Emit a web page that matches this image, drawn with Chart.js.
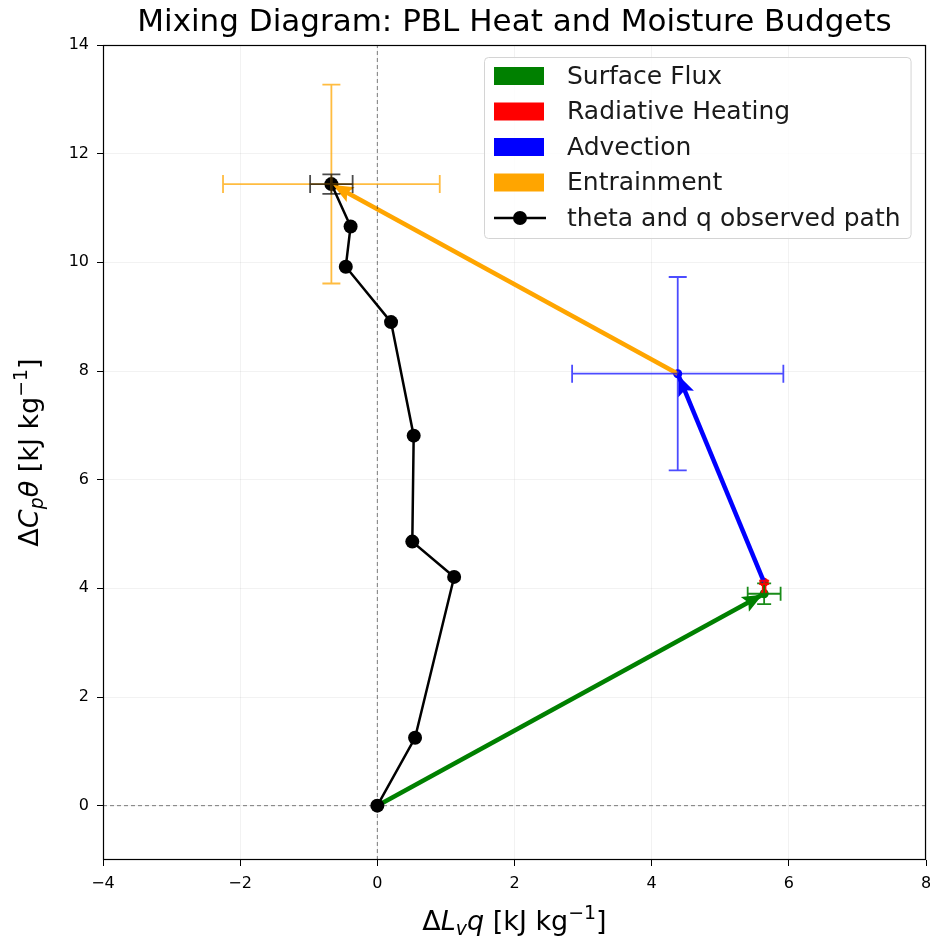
<!DOCTYPE html>
<html>
<head>
<meta charset="utf-8">
<title>Mixing Diagram: PBL Heat and Moisture Budgets</title>
<script src="https://cdn.jsdelivr.net/npm/chart.js@4.4.1/dist/chart.umd.min.js"></script>
<style>
  html, body { margin: 0; padding: 0; background: #ffffff; overflow: hidden; }
  canvas { display: block; }
</style>
</head>
<body>
<canvas id="c" width="933" height="943"></canvas>
<script>
// Axis ticks
const qTicks = [-4, -2, 0, 2, 4, 6, 8];
const thetaTicks = [0, 2, 4, 6, 8, 10, 12, 14];

// Observed path of Lv*q and Cp*theta changes (kJ/kg)
const pathQ     = [0, 0.55, 1.12, 0.51, 0.53, 0.20, -0.46, -0.39, -0.67];
const pathTheta = [0, 1.25, 4.21, 4.86, 6.81, 8.90, 9.92, 10.66, 11.44];
// uncertainty of the final observed point
const pathErrQ = 0.31;
const pathErrTheta = 0.18;

// Budget terms: increments in Lv*q and Cp*theta, with uncertainties
const budgetNames    = ['Surface Flux', 'Radiative Heating', 'Advection', 'Entrainment'];
const budgetColors   = ['#008000', '#ff0000', '#0000ff', '#ffa500'];
const budgetDq       = [5.64, 0.00, -1.26, -5.05];
const budgetDtheta   = [3.90, 0.21, 3.84, 3.49];
const budgetErrQ     = [0.24, 0.00, 1.54, 1.58];
const budgetErrTheta = [0.19, 0.03, 1.78, 1.83];

const FONT = 'DejaVu Sans';

// Budget vectors are chained head to tail starting from the origin
const budgetSegments = [];
{
  let q0 = 0, t0 = 0;
  for (let i = 0; i < budgetNames.length; i++) {
    const q1 = q0 + budgetDq[i], t1 = t0 + budgetDtheta[i];
    budgetSegments.push({ start: { x: q0, y: t0 }, end: { x: q1, y: t1 } });
    q0 = q1; t0 = t1;
  }
}

const fmt = v => (v < 0 ? '\u2212' + Math.abs(v) : String(v));

const datasets = [];
// zero reference lines (drawn on top)
datasets.push({
  label: 'zero-x', data: [{ x: 0, y: -1 }, { x: 0, y: 14 }],
  showLine: true, borderColor: 'rgba(0,0,0,0.5)', borderWidth: 1, borderDash: [4, 3],
  pointRadius: 0, order: 0
});
datasets.push({
  label: 'zero-y', data: [{ x: -4, y: 0 }, { x: 8, y: 0 }],
  showLine: true, borderColor: 'rgba(0,0,0,0.5)', borderWidth: 1, borderDash: [4, 3],
  pointRadius: 0, order: 0
});
// observed path
datasets.push({
  label: 'theta and q observed path',
  data: pathQ.map((q, i) => ({ x: q, y: pathTheta[i] })),
  showLine: true, borderColor: '#000', borderWidth: 2.5,
  pointRadius: 7, pointBackgroundColor: '#000', pointBorderColor: '#000', pointBorderWidth: 0,
  order: 2
});
// budget arrows
budgetSegments.forEach((s, i) => {
  datasets.push({
    label: budgetNames[i],
    data: [s.start, s.end],
    showLine: true, borderColor: budgetColors[i], borderWidth: 4.5,
    pointRadius: [0, 4.5], pointBackgroundColor: budgetColors[i], pointBorderWidth: 0,
    order: 3 + (budgetNames.length - i)
  });
});

function drawArrowHead(ctx, x0, y0, x1, y1, color) {
  const dx = x1 - x0, dy = y1 - y0;
  const len = Math.hypot(dx, dy);
  if (len < 1e-6) return;
  const ux = dx / len, uy = dy / len;
  const px = -uy, py = ux;
  const L = Math.min(20, len * 0.9);
  const W = L * 0.42;
  const tx = x1 - ux * 2, ty = y1 - uy * 2;
  const bx = tx - ux * L, by = ty - uy * L;
  const nx = tx - ux * (L - 4), ny = ty - uy * (L - 4);
  ctx.beginPath();
  ctx.moveTo(tx, ty);
  ctx.lineTo(bx + px * W, by + py * W);
  ctx.lineTo(nx, ny);
  ctx.lineTo(bx - px * W, by - py * W);
  ctx.closePath();
  ctx.fillStyle = color;
  ctx.fill();
}

function drawErrorBar(ctx, xs, ys, q, t, eq, et, color, cap, lw) {
  const cx = xs.getPixelForValue(q), cy = ys.getPixelForValue(t);
  ctx.strokeStyle = color;
  ctx.lineWidth = lw;
  ctx.beginPath();
  if (eq > 0) {
    const xl = xs.getPixelForValue(q - eq), xr = xs.getPixelForValue(q + eq);
    ctx.moveTo(xl, cy); ctx.lineTo(xr, cy);
    ctx.moveTo(xl, cy - cap); ctx.lineTo(xl, cy + cap);
    ctx.moveTo(xr, cy - cap); ctx.lineTo(xr, cy + cap);
  }
  if (et > 0) {
    const yt = ys.getPixelForValue(t + et), yb = ys.getPixelForValue(t - et);
    ctx.moveTo(cx, yt); ctx.lineTo(cx, yb);
    ctx.moveTo(cx - cap, yt); ctx.lineTo(cx + cap, yt);
    ctx.moveTo(cx - cap, yb); ctx.lineTo(cx + cap, yb);
  }
  ctx.stroke();
}

// text with italic parts, subscripts and superscripts
function richWidth(ctx, parts, size) {
  let w = 0;
  parts.forEach(p => {
    const s = (p.sub || p.sup) ? size * 0.7 : size;
    ctx.font = (p.it ? 'italic ' : '') + s + 'px ' + FONT;
    w += ctx.measureText(p.t).width;
  });
  return w;
}
function drawRich(ctx, parts, x, y, size) {
  const total = richWidth(ctx, parts, size);
  let cx = x - total / 2;
  ctx.textAlign = 'left';
  ctx.textBaseline = 'alphabetic';
  parts.forEach(p => {
    const s = (p.sub || p.sup) ? size * 0.7 : size;
    ctx.font = (p.it ? 'italic ' : '') + s + 'px ' + FONT;
    let yy = y;
    if (p.sub) yy += size * 0.2;
    if (p.sup) yy -= size * 0.42;
    ctx.fillText(p.t, cx, yy);
    cx += ctx.measureText(p.t).width;
  });
}

const overlay = {
  id: 'overlay',
  afterDatasetsDraw(chart) {
    const { ctx, chartArea: a, scales: { x: xs, y: ys } } = chart;
    ctx.save();
    ctx.beginPath();
    ctx.rect(a.left, a.top, a.right - a.left, a.bottom - a.top);
    ctx.clip();
    budgetSegments.forEach((s, i) => {
      drawArrowHead(ctx,
        xs.getPixelForValue(s.start.x), ys.getPixelForValue(s.start.y),
        xs.getPixelForValue(s.end.x), ys.getPixelForValue(s.end.y),
        budgetColors[i]);
    });
    const ebColors = ['rgba(0,128,0,0.9)', 'rgba(255,0,0,0.9)', 'rgba(0,0,255,0.7)', 'rgba(255,165,0,0.75)'];
    const caps = [7, 5, 9, 9];
    budgetSegments.forEach((s, i) => {
      drawErrorBar(ctx, xs, ys, s.end.x, s.end.y, budgetErrQ[i], budgetErrTheta[i], ebColors[i], caps[i], 1.8);
    });
    const n = pathQ.length - 1;
    drawErrorBar(ctx, xs, ys, pathQ[n], pathTheta[n], pathErrQ, pathErrTheta, 'rgba(0,0,0,0.7)', 9, 1.8);
    ctx.restore();
  },
  afterDraw(chart) {
    const { ctx, chartArea: a } = chart;
    ctx.save();
    // frame
    ctx.strokeStyle = '#000';
    ctx.lineWidth = 1.2;
    ctx.strokeRect(a.left + 0.5, a.top + 0.5, a.right - a.left - 1, a.bottom - a.top - 1);

    // title
    ctx.fillStyle = '#000';
    ctx.font = '31px ' + FONT;
    ctx.textAlign = 'center';
    ctx.textBaseline = 'alphabetic';
    ctx.fillText('Mixing Diagram: PBL Heat and Moisture Budgets', (a.left + a.right) / 2, 31);

    // axis titles
    const xLabel = [
      { t: '\u0394' }, { t: 'L', it: true }, { t: 'v', it: true, sub: true }, { t: 'q', it: true },
      { t: ' [kJ kg' }, { t: '\u22121', sup: true }, { t: ']' }
    ];
    drawRich(ctx, xLabel, (a.left + a.right) / 2, 930, 27);
    const yLabel = [
      { t: '\u0394' }, { t: 'C', it: true }, { t: 'p', it: true, sub: true }, { t: '\u03b8', it: true },
      { t: ' [kJ kg' }, { t: '\u22121', sup: true }, { t: ']' }
    ];
    ctx.save();
    ctx.translate(38, (a.top + a.bottom) / 2);
    ctx.rotate(-Math.PI / 2);
    drawRich(ctx, yLabel, 0, 0, 27);
    ctx.restore();

    // legend
    const lx = 484, ly = 57, rowH = 35.5, fs = 25;
    ctx.font = fs + 'px ' + FONT;
    const labels = budgetNames.concat(['theta and q observed path']);
    let maxW = 0;
    labels.forEach(l => { maxW = Math.max(maxW, ctx.measureText(l).width); });
    const textX = lx + 83;
    const boxW = textX - lx + maxW + 10;
    const boxH = 181;
    ctx.beginPath();
    if (ctx.roundRect) ctx.roundRect(lx + 0.5, ly + 0.5, boxW, boxH, 4);
    else ctx.rect(lx + 0.5, ly + 0.5, boxW, boxH);
    ctx.fillStyle = 'rgba(255,255,255,0.8)';
    ctx.fill();
    ctx.strokeStyle = '#d4d4d4';
    ctx.lineWidth = 1;
    ctx.stroke();
    labels.forEach((l, i) => {
      const cy = ly + 19 + i * rowH;
      if (i < budgetNames.length) {
        ctx.fillStyle = budgetColors[i];
        ctx.fillRect(lx + 10, cy - 9, 50, 18);
      } else {
        ctx.strokeStyle = '#000';
        ctx.lineWidth = 2.5;
        ctx.beginPath();
        ctx.moveTo(lx + 10, cy); ctx.lineTo(lx + 62, cy);
        ctx.stroke();
        ctx.fillStyle = '#000';
        ctx.beginPath();
        ctx.arc(lx + 36, cy, 7, 0, Math.PI * 2);
        ctx.fill();
      }
      ctx.fillStyle = '#1a1a1a';
      ctx.font = fs + 'px ' + FONT;
      ctx.textAlign = 'left';
      ctx.textBaseline = 'middle';
      ctx.fillText(l, textX, cy + 1);
    });
    ctx.restore();
  }
};

new Chart(document.getElementById('c'), {
  type: 'scatter',
  data: { datasets },
  options: {
    responsive: false,
    animation: false,
    devicePixelRatio: 1,
    layout: { padding: { top: 45, right: 0, left: 0, bottom: 0 } },
    plugins: { legend: { display: false }, tooltip: { enabled: false }, title: { display: false } },
    elements: { line: { tension: 0 } },
    scales: {
      x: {
        type: 'linear', min: -4, max: 8,
        afterFit(scale) { scale.height = 83; scale.paddingLeft = 0; scale.paddingRight = 0; },
        afterBuildTicks(scale) { scale.ticks = qTicks.map(v => ({ value: v })); },
        ticks: { callback: v => fmt(v), font: { family: FONT, size: 16 }, color: '#000', padding: 8, maxRotation: 0 },
        grid: { color: 'rgba(0,0,0,0.05)', tickColor: '#000', tickLength: 6, lineWidth: 1 },
        border: { display: false }
      },
      y: {
        type: 'linear', min: -1, max: 14,
        afterFit(scale) { scale.width = 103; scale.paddingTop = 0; scale.paddingBottom = 0; },
        afterBuildTicks(scale) { scale.ticks = thetaTicks.map(v => ({ value: v })); },
        ticks: { callback: v => fmt(v), font: { family: FONT, size: 16 }, color: '#000', padding: 8 },
        grid: { color: 'rgba(0,0,0,0.05)', tickColor: '#000', tickLength: 6, lineWidth: 1 },
        border: { display: false }
      }
    }
  },
  plugins: [overlay]
});
</script>
</body>
</html>
